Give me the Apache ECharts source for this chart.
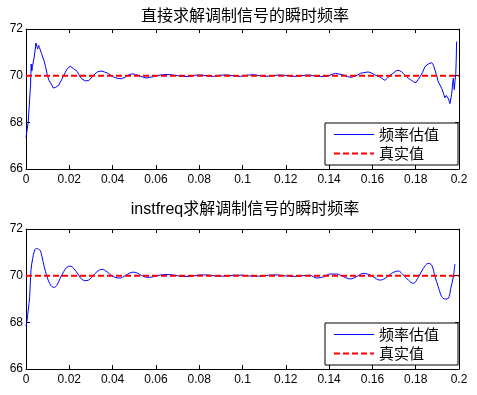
<!DOCTYPE html>
<html><head><meta charset="utf-8">
<script src="https://cdn.jsdelivr.net/npm/echarts@6/dist/echarts.min.js"></script>
<style>html,body{margin:0;padding:0;background:#fff}#c{width:477px;height:395px}</style>
</head><body><div id="c"></div>
<script>
// Top plot: direct estimate
const t1 = [0,0.0005,0.001,0.0014,0.0017,0.0021,0.0024,0.0027,0.003,0.0034,0.0038,0.0042,0.0046,0.005,0.0054,0.0058,0.0062,0.0067,0.0072,0.0077,0.0083,0.009,0.0098,0.0106,0.0114,0.012,0.0126,0.0132,0.0137,0.0144,0.0152,0.0158,0.0164,0.017,0.0175,0.0182,0.0191,0.0198,0.0204,0.0212,0.022,0.0228,0.0237,0.0244,0.025,0.0258,0.0266,0.0274,0.0282,0.029,0.0298,0.0306,0.0314,0.0322,0.033,0.0338,0.0346,0.0354,0.0362,0.037,0.0378,0.0386,0.0394,0.0402,0.041,0.0418,0.0426,0.0434,0.0442,0.045,0.0458,0.0466,0.0474,0.0482,0.049,0.0498,0.0506,0.0514,0.0522,0.053,0.0538,0.0546,0.0554,0.0562,0.057,0.0578,0.0586,0.0594,0.0602,
0.063,0.066,0.069,0.072,0.075,0.078,0.081,0.084,0.087,0.09,0.093,0.096,0.099,0.102,0.105,0.108,0.111,0.114,0.117,0.12,0.123,0.126,0.129,
0.131,0.1335,0.136,0.139,0.1415,0.143,0.145,0.147,0.1485,0.15,0.1515,0.153,0.1545,0.156,0.158,0.1595,0.161,0.1625,0.1635,0.1648,0.1658,0.167,0.168,0.1695,0.1712,0.1724,0.1735,0.1747,0.1758,0.177,0.178,0.179,0.1801,0.181,0.182,0.1832,0.1843,0.1851,0.1858,0.1866,0.1874,0.1882,0.1889,0.1897,0.1904,0.1912,0.192,0.1928,0.1935,0.1941,0.1946,0.1952,0.1958,0.1962,0.1966,0.197,0.1974,0.1978,0.1982,0.1985,0.1987,0.1989];
const f1 = [67.35,67.4,68.0,68.05,69.0,69.6,70.5,70.2,70.4,70.35,70.8,71.1,71.4,71.25,71.15,71.3,71.2,71.15,70.95,70.8,70.65,70.4,70.05,69.8,69.68,69.58,69.47,69.45,69.5,69.52,69.6,69.72,69.82,69.9,70.02,70.15,70.3,70.36,70.4,70.36,70.3,70.24,70.18,70.05,69.95,69.86,69.8,69.78,69.8,69.79,69.86,69.95,70.04,70.1,70.16,70.2,70.2,70.17,70.16,70.12,70.1,70.04,70.0,69.95,69.92,69.9,69.88,69.88,69.87,69.9,69.94,69.97,70.03,70.06,70.08,70.07,70.05,70.04,70.0,69.97,69.95,69.92,69.9,69.91,69.93,69.92,69.95,69.98,70.0,
70.04,70.05,70.01,69.97,69.96,70.02,70.03,69.98,69.97,70.02,70.03,69.99,69.97,70.02,70.04,70.0,69.97,70.0,70.03,70.01,69.97,69.98,70.02,
70.03,69.98,69.96,69.97,70.06,70.1,70.06,70.02,69.96,69.93,69.96,70.02,70.1,70.13,70.16,70.12,70.04,69.98,69.95,69.86,69.8,69.9,70.0,70.1,70.22,70.22,70.17,70.05,69.96,69.86,69.8,69.74,69.7,69.82,69.95,70.15,70.39,70.46,70.5,70.55,70.56,70.45,70.24,70.0,69.74,69.6,69.46,69.25,69.05,69.15,69.2,69.0,68.8,69.0,69.2,69.6,69.9,69.4,69.8,70.05,70.6,71.46];
// Bottom plot: instfreq estimate
const t2 = [0,0.0005,0.001,0.0017,0.0023,0.0031,0.004,0.0048,0.0058,0.0066,0.0074,0.0084,0.0097,0.0109,0.012,0.0131,0.0143,0.0158,0.0174,0.0189,0.0204,0.022,0.0243,0.0258,0.0274,0.0289,0.0309,0.0328,0.0351,0.0374,0.0397,0.042,0.0435,0.0458,0.0481,0.0497,0.0512,0.0535,0.0558,0.0582,0.0605,
0.064,0.068,0.072,0.076,0.08,0.084,0.088,0.092,0.096,0.1,0.104,0.108,0.112,0.116,0.12,0.124,0.128,
0.131,0.1343,0.1374,0.1404,0.1435,0.1466,0.1497,0.1528,0.1558,0.1581,0.1604,0.1635,0.1658,0.1689,0.172,0.1743,0.1766,0.1789,0.1812,0.1835,0.1858,0.1874,0.1889,0.1904,0.192,0.1935,0.1951,0.1962,0.1974,0.1981];
const f2 = [67.84,68.1,68.5,69.1,70.24,70.74,71.1,71.17,71.13,71.08,70.81,70.39,69.96,69.67,69.53,69.5,69.6,69.89,70.17,70.36,70.41,70.31,70.03,69.84,69.79,69.81,69.99,70.17,70.27,70.17,69.99,69.91,69.9,70.0,70.12,70.15,70.12,70.0,69.93,69.94,70.0,
70.05,70.03,69.97,69.97,70.03,70.03,69.98,69.98,70.02,70.02,69.98,69.98,70.02,70.03,69.99,69.97,70.0,
70.02,69.9,69.95,70.07,70.07,69.96,69.86,69.96,70.1,70.06,69.95,69.81,69.88,70.1,70.2,70.03,69.81,69.67,69.93,70.31,70.53,70.45,69.96,69.53,69.1,69.0,69.03,69.46,69.96,70.5];
const trueFreq = 70;
const xRange = [0, 0.2];
const xTickLabels = ['0','0.02','0.04','0.06','0.08','0.1','0.12','0.14','0.16','0.18','0.2'];
const yTickLabels = ['66','68','70','72'];
const titles = ['直接求解调制信号的瞬时频率', 'instfreq求解调制信号的瞬时频率'];
const legendNames = ['频率估值', '真实值'];

const latin = "'Liberation Sans', Arial, 'Noto Sans CJK SC'";
const cjk = "'Noto Sans CJK SC', 'Liberation Sans'";
const pair = (ts, fs) => ts.map((t, i) => [t, fs[i]]);

const grids = [{left:26, top:29, width:433, height:140}, {left:26, top:229, width:433, height:140}];
const xAxes = [], yAxes = [], series = [], legends = [], titleObjs = [];
const axisBase = {
  axisLine:{show:true, onZero:false, lineStyle:{color:'#000', width:1}},
  axisTick:{show:true, inside:true, length:4, lineStyle:{color:'#000', width:1}},
  splitLine:{show:false}
};
grids.forEach((g, gi) => {
  const xl = {type:'value', gridIndex:gi, min:xRange[0], max:xRange[1], interval:0.02, position:'bottom',
    ...axisBase,
    axisLabel:{show:true, margin:5, color:'#000', fontSize:12, fontFamily:latin, showMinLabel:true, showMaxLabel:true,
      formatter:v => xTickLabels[Math.round(v/0.02)]}};
  const xt = {type:'value', gridIndex:gi, min:xRange[0], max:xRange[1], interval:0.02, position:'top', ...axisBase, axisLabel:{show:false}};
  const yl = {type:'value', gridIndex:gi, min:66, max:72, interval:2, position:'left', ...axisBase,
    axisLabel:{show:true, margin:3, color:'#000', fontSize:12, fontFamily:latin, showMinLabel:true, showMaxLabel:true,
      formatter:v => yTickLabels[Math.round((v-66)/2)]}};
  const yr = {type:'value', gridIndex:gi, min:66, max:72, interval:2, position:'right', ...axisBase, axisLabel:{show:false}};
  xAxes.push(xl, xt); yAxes.push(yl, yr);
  const data = gi === 0 ? pair(t1, f1) : pair(t2, f2);
  series.push({name:legendNames[0], type:'line', xAxisIndex:gi*2, yAxisIndex:gi*2, data, showSymbol:false, symbol:'none',
    smooth: gi === 1 ? 0.35 : false, lineStyle:{color:'#0000ff', width:1}, itemStyle:{color:'#0000ff'}, animation:false, clip:true});
  series.push({name:legendNames[1], type:'line', xAxisIndex:gi*2, yAxisIndex:gi*2, data:[[xRange[0], trueFreq],[xRange[1], trueFreq]],
    showSymbol:false, symbol:'none', lineStyle:{color:'#ff0000', width:2, type:[6,3]}, itemStyle:{color:'#ff0000'}, animation:false});
  legends.push({orient:'vertical', left:325, top:g.top + 94, padding:[4,19,4,8], itemGap:4, itemWidth:40, itemHeight:15,
    backgroundColor:'#fff', borderColor:'#000', borderWidth:1, selectedMode:false,
    data:[{name:legendNames[0], lineStyle:{width:1}}, {name:legendNames[1], lineStyle:{width:2}}],
    itemStyle:{opacity:0}, textStyle:{fontSize:15, fontFamily:cjk, color:'#000'}});
  titleObjs.push({text:titles[gi], left:240, textAlign:'center', top: gi === 0 ? 4 : 197,
    textStyle:{fontSize:16, fontWeight:'normal', color:'#000', fontFamily:"'Liberation Sans', 'Noto Sans CJK SC'"}});
});

const chart = echarts.init(document.getElementById('c'), null, {renderer:'canvas'});
chart.setOption({backgroundColor:'#fff', animation:false, title:titleObjs, legend:legends, grid:grids,
  xAxis:xAxes, yAxis:yAxes, series});
</script></body></html>
